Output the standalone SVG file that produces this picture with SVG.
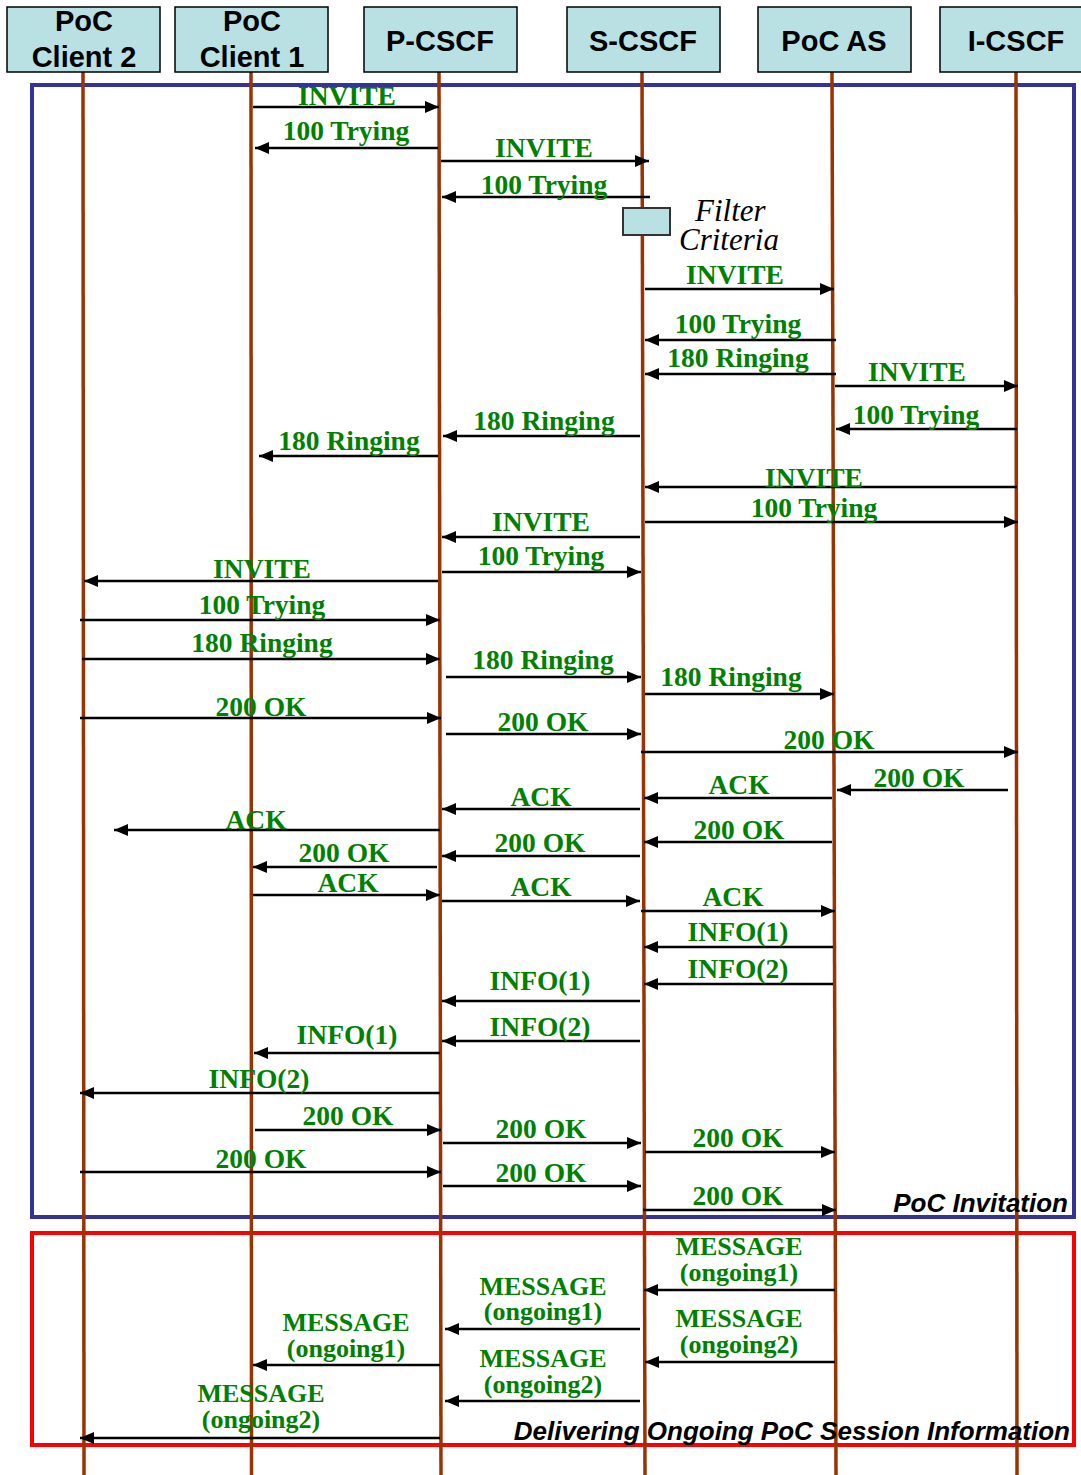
<svg xmlns="http://www.w3.org/2000/svg" width="1081" height="1475" viewBox="0 0 1081 1475">
<defs>
<marker id="ah" markerUnits="userSpaceOnUse" markerWidth="14" markerHeight="12" refX="14" refY="6" orient="auto">
<path d="M0,0 L14,6 L0,12 z" fill="#000"/>
</marker>
<style>
.hdr{fill:#b9e0e3;stroke:#000;stroke-width:1.5}
.ht{font-family:"Liberation Sans",Arial,sans-serif;font-weight:bold;font-size:29px;fill:#000;text-anchor:middle}
.life{stroke:#993300;stroke-width:3.5;fill:none}
.msg{stroke:#000;stroke-width:2.5;marker-end:url(#ah)}
.lb{font-family:"Liberation Serif","Times New Roman",serif;font-weight:bold;font-size:27.5px;fill:#008000;text-anchor:middle}
.ml{font-family:"Liberation Serif","Times New Roman",serif;font-weight:bold;font-size:26px;fill:#008000;text-anchor:middle}
.cap{font-family:"Liberation Sans",Arial,sans-serif;font-weight:bold;font-style:italic;font-size:26px;fill:#000;text-anchor:end}
.fc{font-family:"Liberation Serif","Times New Roman",serif;font-style:italic;font-size:31px;fill:#000}
</style>
</defs>
<rect width="1081" height="1475" fill="#fff"/>

<g id="frames">
<rect x="32" y="85" width="1042" height="1132" fill="none" stroke="#333399" stroke-width="4"/>
<rect x="32" y="1233" width="1042" height="212" fill="none" stroke="#ff0000" stroke-width="4"/>
</g>

<g id="lifelines">
<line class="life" x1="83" y1="72" x2="84" y2="1475"/>
<line class="life" x1="251" y1="72" x2="251.5" y2="1475"/>
<line class="life" x1="439" y1="72" x2="441" y2="1475"/>
<line class="life" x1="642" y1="72" x2="645" y2="1475"/>
<line class="life" x1="832" y1="72" x2="836" y2="1475"/>
<line class="life" x1="1016" y1="72" x2="1017" y2="1475"/>
</g>

<g id="node-poc-client-2">
<rect class="hdr" x="7" y="7" width="153" height="65"/>
<text class="ht" x="84" y="31">PoC<tspan x="84" dy="36">Client 2</tspan></text>
</g>
<g id="node-poc-client-1">
<rect class="hdr" x="175" y="7" width="153" height="65"/>
<text class="ht" x="252" y="31">PoC<tspan x="252" dy="36">Client 1</tspan></text>
</g>
<g id="node-p-cscf">
<rect class="hdr" x="364" y="7" width="153" height="65"/>
<text class="ht" x="440" y="51">P-CSCF</text>
</g>
<g id="node-s-cscf">
<rect class="hdr" x="567" y="7" width="153" height="65"/>
<text class="ht" x="643" y="51">S-CSCF</text>
</g>
<g id="node-poc-as">
<rect class="hdr" x="758" y="7" width="153" height="65"/>
<text class="ht" x="834" y="51">PoC AS</text>
</g>
<g id="node-i-cscf">
<rect class="hdr" x="940" y="7" width="145" height="65"/>
<text class="ht" x="1016" y="51">I-CSCF</text>
</g>

<g id="node-filter-criteria">
<rect x="623" y="208" width="47" height="27" fill="#b9e0e3" stroke="#333" stroke-width="2"/>
<text class="fc" x="695" y="221">Filter<tspan x="679" dy="29">Criteria</tspan></text>
</g>

<g id="connectors">
<line class="msg" x1="253" y1="107" x2="439" y2="107"/>
<line class="msg" x1="438" y1="148" x2="255" y2="148"/>
<line class="msg" x1="441" y1="161" x2="649" y2="161"/>
<line class="msg" x1="650" y1="197" x2="442" y2="197"/>
<line class="msg" x1="645" y1="289" x2="834" y2="289"/>
<line class="msg" x1="836" y1="340" x2="645" y2="340"/>
<line class="msg" x1="836" y1="374" x2="645" y2="374"/>
<line class="msg" x1="835" y1="386" x2="1018" y2="386"/>
<line class="msg" x1="1017" y1="429" x2="836" y2="429"/>
<line class="msg" x1="640" y1="436" x2="443" y2="436"/>
<line class="msg" x1="438" y1="456" x2="259" y2="456"/>
<line class="msg" x1="1017" y1="487" x2="645" y2="487"/>
<line class="msg" x1="645" y1="522" x2="1018" y2="522"/>
<line class="msg" x1="640" y1="537" x2="442" y2="537"/>
<line class="msg" x1="442" y1="572" x2="641" y2="572"/>
<line class="msg" x1="438" y1="581" x2="84" y2="581"/>
<line class="msg" x1="80" y1="620" x2="440" y2="620"/>
<line class="msg" x1="82" y1="659" x2="440" y2="659"/>
<line class="msg" x1="446" y1="677" x2="641" y2="677"/>
<line class="msg" x1="645" y1="694" x2="834" y2="694"/>
<line class="msg" x1="80" y1="718" x2="441" y2="718"/>
<line class="msg" x1="446" y1="734" x2="641" y2="734"/>
<line class="msg" x1="641" y1="752" x2="1018" y2="752"/>
<line class="msg" x1="1008" y1="790" x2="837" y2="790"/>
<line class="msg" x1="832" y1="798" x2="644" y2="798"/>
<line class="msg" x1="640" y1="809" x2="442" y2="809"/>
<line class="msg" x1="440" y1="830" x2="114" y2="830"/>
<line class="msg" x1="832" y1="842" x2="644" y2="842"/>
<line class="msg" x1="640" y1="856" x2="442" y2="856"/>
<line class="msg" x1="437" y1="867" x2="253" y2="867"/>
<line class="msg" x1="253" y1="895" x2="440" y2="895"/>
<line class="msg" x1="442" y1="901" x2="640" y2="901"/>
<line class="msg" x1="641" y1="911" x2="835" y2="911"/>
<line class="msg" x1="833" y1="947" x2="644" y2="947"/>
<line class="msg" x1="833" y1="984" x2="644" y2="984"/>
<line class="msg" x1="640" y1="1001" x2="442" y2="1001"/>
<line class="msg" x1="640" y1="1041" x2="442" y2="1041"/>
<line class="msg" x1="440" y1="1053" x2="254" y2="1053"/>
<line class="msg" x1="440" y1="1093" x2="80" y2="1093"/>
<line class="msg" x1="255" y1="1130" x2="441" y2="1130"/>
<line class="msg" x1="443" y1="1143" x2="641" y2="1143"/>
<line class="msg" x1="645" y1="1152" x2="835" y2="1152"/>
<line class="msg" x1="80" y1="1172" x2="441" y2="1172"/>
<line class="msg" x1="443" y1="1186" x2="641" y2="1186"/>
<line class="msg" x1="643" y1="1210" x2="836" y2="1210"/>
<line class="msg" x1="835" y1="1290" x2="644" y2="1290"/>
<line class="msg" x1="640" y1="1329" x2="445" y2="1329"/>
<line class="msg" x1="835" y1="1362" x2="645" y2="1362"/>
<line class="msg" x1="440" y1="1365" x2="253" y2="1365"/>
<line class="msg" x1="640" y1="1401" x2="445" y2="1401"/>
<line class="msg" x1="440" y1="1438" x2="80" y2="1438"/>
</g>

<g id="labels">
<text class="lb" x="347" y="105">INVITE</text>
<text class="lb" x="346" y="140">100 Trying</text>
<text class="lb" x="544" y="157">INVITE</text>
<text class="lb" x="544" y="194">100 Trying</text>
<text class="lb" x="735" y="284">INVITE</text>
<text class="lb" x="738" y="333">100 Trying</text>
<text class="lb" x="738" y="367">180 Ringing</text>
<text class="lb" x="917" y="381">INVITE</text>
<text class="lb" x="916" y="424">100 Trying</text>
<text class="lb" x="544" y="430">180 Ringing</text>
<text class="lb" x="349" y="450">180 Ringing</text>
<text class="lb" x="814" y="487">INVITE</text>
<text class="lb" x="814" y="517">100 Trying</text>
<text class="lb" x="541" y="531">INVITE</text>
<text class="lb" x="541" y="565">100 Trying</text>
<text class="lb" x="262" y="578">INVITE</text>
<text class="lb" x="262" y="614">100 Trying</text>
<text class="lb" x="262" y="652">180 Ringing</text>
<text class="lb" x="543" y="669">180 Ringing</text>
<text class="lb" x="731" y="686">180 Ringing</text>
<text class="lb" x="261" y="716">200 OK</text>
<text class="lb" x="543" y="731">200 OK</text>
<text class="lb" x="829" y="749">200 OK</text>
<text class="lb" x="919" y="787">200 OK</text>
<text class="lb" x="739" y="794">ACK</text>
<text class="lb" x="541" y="806">ACK</text>
<text class="lb" x="256" y="829">ACK</text>
<text class="lb" x="739" y="839">200 OK</text>
<text class="lb" x="540" y="852">200 OK</text>
<text class="lb" x="344" y="862">200 OK</text>
<text class="lb" x="348" y="892">ACK</text>
<text class="lb" x="541" y="896">ACK</text>
<text class="lb" x="733" y="906">ACK</text>
<text class="lb" x="738" y="941">INFO(1)</text>
<text class="lb" x="738" y="978">INFO(2)</text>
<text class="lb" x="540" y="990">INFO(1)</text>
<text class="lb" x="540" y="1036">INFO(2)</text>
<text class="lb" x="347" y="1044">INFO(1)</text>
<text class="lb" x="259" y="1088">INFO(2)</text>
<text class="lb" x="348" y="1125">200 OK</text>
<text class="lb" x="541" y="1138">200 OK</text>
<text class="lb" x="738" y="1147">200 OK</text>
<text class="lb" x="261" y="1168">200 OK</text>
<text class="lb" x="541" y="1182">200 OK</text>
<text class="lb" x="738" y="1205">200 OK</text>
<text class="ml" x="739" y="1255">MESSAGE<tspan x="739" dy="26">(ongoing1)</tspan></text>
<text class="ml" x="543" y="1295">MESSAGE<tspan x="543" dy="25">(ongoing1)</tspan></text>
<text class="ml" x="739" y="1327">MESSAGE<tspan x="739" dy="26">(ongoing2)</tspan></text>
<text class="ml" x="346" y="1331">MESSAGE<tspan x="346" dy="26">(ongoing1)</tspan></text>
<text class="ml" x="543" y="1367">MESSAGE<tspan x="543" dy="26">(ongoing2)</tspan></text>
<text class="ml" x="261" y="1402">MESSAGE<tspan x="261" dy="26">(ongoing2)</tspan></text>
<text class="cap" x="1068" y="1212">PoC Invitation</text>
<text class="cap" x="1070" y="1440">Delivering Ongoing PoC Session Information</text>
</g>
</svg>
